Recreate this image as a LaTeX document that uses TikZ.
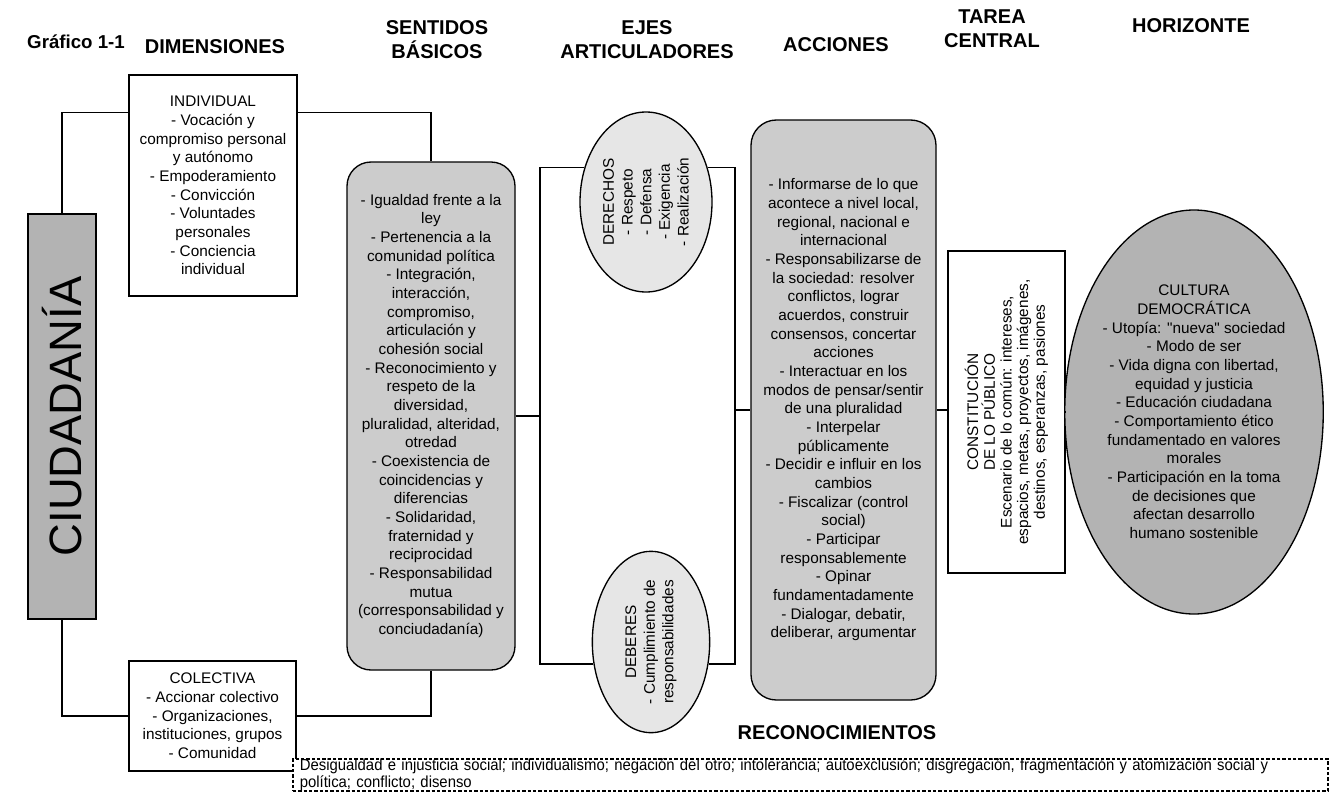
\documentclass[tikz,border=0pt]{standalone}
\usepackage{fontspec}
\setmainfont{Liberation Sans}
\newfontfamily\narrowfont[FakeStretch=0.93]{Liberation Sans}
\usetikzlibrary{shapes.geometric}

\definecolor{darkgrey}{HTML}{B3B3B3}
\definecolor{midgrey}{HTML}{CCCCCC}
\definecolor{lightgrey}{HTML}{E6E6E6}

\newcommand\boxfont{\fontsize{11.5}{14}\selectfont}
\newcommand\headfont{\fontsize{15}{18}\selectfont\bfseries}

\tikzset{
  box/.style={draw, line width=1pt, inner sep=0pt, align=center, font=\boxfont},
  roundbox/.style={box, rounded corners=18pt, fill=midgrey},
  oval/.style={box, ellipse},
  head/.style={font=\headfont, align=center, inner sep=0pt},
  link/.style={line width=1pt}
}

\begin{document}
\begin{tikzpicture}[x=0.75pt,y=0.75pt,yscale=-1,xscale=1]
\useasboundingbox (0,0) rectangle (1342,793);

% Text Node
\node [head, font=\fontsize{14}{17}\selectfont\bfseries] (grafico) at (76,42) {Gráfico 1-1};
\node [head] (hdim) at (215,47) {DIMENSIONES};
\node [head] (hsent) at (437,40) {SENTIDOS\\BÁSICOS};
\node [head] (hejes) at (647,40) {EJES\\ARTICULADORES};
\node [head] (hacc) at (836,45) {ACCIONES};
\node [head] (htarea) at (992,29) {TAREA\\CENTRAL};
\node [head] (hhor) at (1191,26) {HORIZONTE};
\node [head] (hrec) at (837,733) {RECONOCIMIENTOS};

%Shape: main box
\node [box, fill=darkgrey, rotate=90, minimum width=303.75pt, minimum height=51pt, font=\fontsize{34}{40}\selectfont] (ciud) at (62,416.5) {CIUDADANÍA};

%Shape: dimensions
\node [box, minimum width=126pt, minimum height=165.75pt] (indiv) at (213,185.5) {INDIVIDUAL\\- Vocación y\\compromiso personal\\y autónomo\\- Empoderamiento\\- Convicción\\- Voluntades\\personales\\- Conciencia\\individual};
\node [box, minimum width=125.25pt, minimum height=82.5pt] (colec) at (212.5,716) {COLECTIVA\\- Accionar colectivo\\- Organizaciones,\\instituciones, grupos\\- Comunidad};

%Shape: sentidos
\node [roundbox, minimum width=126pt, minimum height=381pt] (sent) at (431,416) {- Igualdad frente a la\\ley\\- Pertenencia a la\\comunidad política\\- Integración,\\interacción,\\compromiso,\\articulación y\\cohesión social\\- Reconocimiento y\\respeto de la\\diversidad,\\pluralidad, alteridad,\\otredad\\- Coexistencia de\\coincidencias y\\diferencias\\- Solidaridad,\\fraternidad y\\reciprocidad\\- Responsabilidad\\mutua\\(corresponsabilidad y\\conciudadanía)};

%Shape: ejes
\node [oval, fill=lightgrey, rotate=90, minimum width=135pt, minimum height=99pt] (derechos) at (646,202) {DERECHOS\\- Respeto\\- Defensa\\- Exigencia\\- Realización};
\node [oval, fill=lightgrey, rotate=90, minimum width=136pt, minimum height=88pt] (deberes) at (651,642) {DEBERES\\- Cumplimiento de\\responsabilidades};
\coordinate (ejeL) at (540,0);
\coordinate (ejeR) at (735,0);

%Shape: acciones
\node [roundbox, rounded corners=19pt, minimum width=138.75pt, minimum height=435pt] (acc) at (843.5,410) {- Informarse de lo que\\acontece a nivel local,\\regional, nacional e\\internacional\\- Responsabilizarse de\\la sociedad: resolver\\conflictos, lograr\\acuerdos, construir\\consensos, concertar\\acciones\\- Interactuar en los\\modos de pensar/sentir\\de una pluralidad\\- Interpelar\\públicamente\\- Decidir e influir en los\\cambios\\- Fiscalizar (control\\social)\\- Participar\\responsablemente\\- Opinar\\fundamentadamente\\- Dialogar, debatir,\\deliberar, argumentar};

%Shape: tarea central
\node [box, rotate=90, minimum width=241.5pt, minimum height=87.75pt, font=\fontsize{11.5}{12.5}\selectfont] (const) at (1006.5,412) {CONSTITUCIÓN\\DE LO PÚBLICO\\Escenario de lo común: intereses,\\espacios, metas, proyectos, imágenes,\\destinos, esperanzas, pasiones};

%Shape: horizonte
\node [oval, fill=darkgrey, minimum width=178.5pt, minimum height=303pt] (cult) at (1194,412) {CULTURA\\DEMOCRÁTICA\\- Utopía: \textquotedbl nueva\textquotedbl{} sociedad\\- Modo de ser\\- Vida digna con libertad,\\equidad y justicia\\- Educación ciudadana\\- Comportamiento ético\\fundamentado en valores\\morales\\- Participación en la toma\\de decisiones que\\afectan desarrollo\\humano sostenible};

%Straight Lines (rotated nodes: east is up, north is left)
\draw [link] (ciud.east) |- ([yshift=28.5pt]indiv.north west);
\draw [link] ([yshift=28.5pt]indiv.north east) -| (sent.north);
\draw [link] (ciud.west) |- (colec.west);
\draw [link] (colec.east) -| (sent.south);
\draw [link] (sent.east) -- (sent.east -| ejeL);
\draw [link] (derechos.61) -- (derechos.61 -| ejeL) -- (deberes.111 -| ejeL) -- (deberes.111);
\draw [link] (derechos.299) -- (derechos.299 -| ejeR) -- (deberes.249 -| ejeR) -- (deberes.249);
\draw [link] (acc.west -| ejeR) -- (acc.west);
\draw [link] (acc.east) -- (acc.east -| const.north);
\draw [link] (const.south) -- (const.south -| cult.west);

% Text Node
\node [draw, fill=white, line width=0.8pt, dash pattern={on 2.5pt off 1.5pt}, minimum width=776.25pt, minimum height=24pt, text width=766pt, inner xsep=5pt, inner ysep=0pt, align=left, font=\narrowfont\fontsize{12}{12.5}\selectfont] (recon) at (810.5,775) {Desigualdad e injusticia social; individualismo; negación del otro; intolerancia; autoexclusión; disgregación, fragmentación y atomización social y\\política; conflicto; disenso};

\end{tikzpicture}
\end{document}
